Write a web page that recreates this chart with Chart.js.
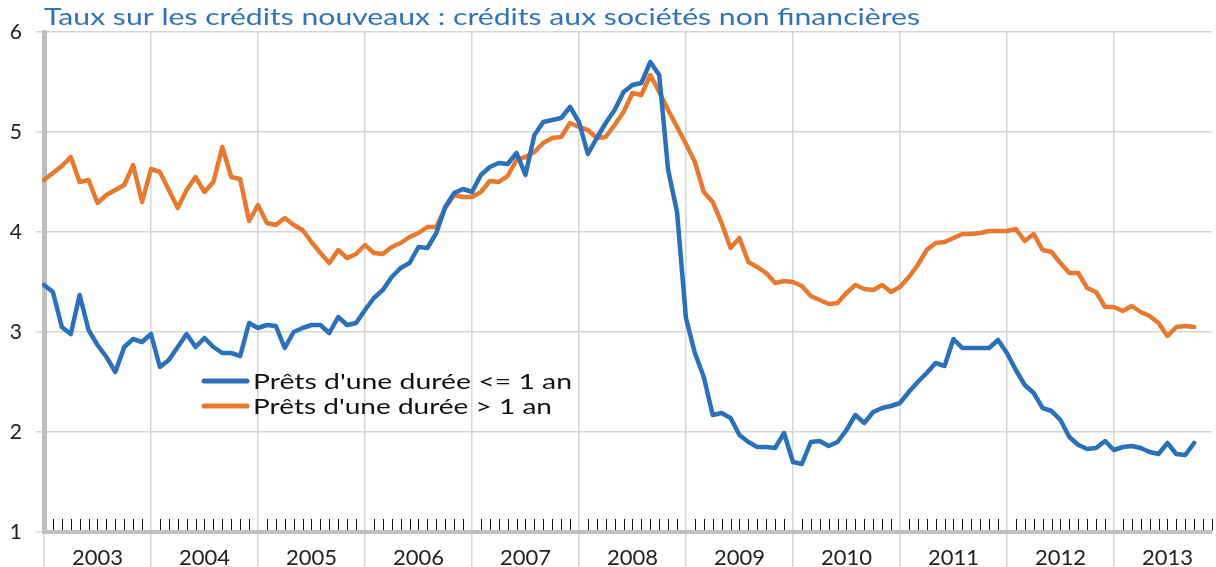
<!DOCTYPE html>
<html>
<head>
<meta charset="utf-8">
<script src="https://cdn.jsdelivr.net/npm/chart.js@4.4.0/dist/chart.umd.min.js"></script>
<style>
  html, body { margin: 0; padding: 0; background: #fff; }
  canvas { display: block; }
</style>
</head>
<body>
<canvas id="ratesChart" width="1216" height="567"></canvas>
<script>
// Data (monthly, Jan 2003 - Oct 2013)
const years = ["2003", "2004", "2005", "2006", "2007", "2008", "2009", "2010", "2011", "2012", "2013"];
const chartTitle = "Taux sur les crédits nouveaux : crédits aux sociétés non financières";
const seriesNames = ["Prêts d'une durée <= 1 an", "Prêts d'une durée > 1 an"];

const shortRates = [
    3.47, 3.40, 3.05, 2.98, 3.37, 3.02, 2.87, 2.75, 2.60, 2.85, 2.93, 2.90,
    2.98, 2.65, 2.72, 2.85, 2.98, 2.85, 2.94, 2.85, 2.79, 2.79, 2.76, 3.09,
    3.04, 3.07, 3.06, 2.84, 3.00, 3.04, 3.07, 3.07, 2.99, 3.15, 3.07, 3.09,
    3.22, 3.34, 3.42, 3.55, 3.64, 3.69, 3.85, 3.84, 3.99, 4.25, 4.39, 4.43,
    4.40, 4.57, 4.65, 4.69, 4.68, 4.79, 4.57, 4.97, 5.10, 5.12, 5.14, 5.25,
    5.10, 4.78, 4.94, 5.09, 5.22, 5.40, 5.47, 5.49, 5.70, 5.57, 4.62, 4.20,
    3.14, 2.79, 2.55, 2.17, 2.19, 2.14, 1.97, 1.90, 1.85, 1.85, 1.84, 1.99,
    1.70, 1.68, 1.90, 1.91, 1.86, 1.90, 2.02, 2.17, 2.09, 2.20, 2.24, 2.26,
    2.29, 2.40, 2.50, 2.59, 2.69, 2.66, 2.93, 2.84, 2.84, 2.84, 2.84, 2.92,
    2.79, 2.62, 2.47, 2.39, 2.24, 2.21, 2.12, 1.95, 1.87, 1.83, 1.84, 1.91,
    1.82, 1.85, 1.86, 1.84, 1.80, 1.78, 1.89, 1.78, 1.77, 1.89
];

const longRates = [
    4.52, 4.59, 4.66, 4.75, 4.50, 4.52, 4.29, 4.37, 4.42, 4.47, 4.67, 4.30,
    4.63, 4.60, 4.42, 4.24, 4.42, 4.55, 4.40, 4.50, 4.85, 4.55, 4.53, 4.11,
    4.27, 4.09, 4.07, 4.14, 4.07, 4.02, 3.90, 3.79, 3.69, 3.82, 3.74, 3.78,
    3.87, 3.79, 3.78, 3.85, 3.89, 3.95, 3.99, 4.05, 4.05, 4.24, 4.37, 4.35,
    4.35, 4.40, 4.51, 4.50, 4.56, 4.72, 4.75, 4.80, 4.89, 4.94, 4.95, 5.09,
    5.05, 5.02, 4.94, 4.95, 5.07, 5.20, 5.39, 5.37, 5.57, 5.40, 5.22, 5.05,
    4.88, 4.70, 4.40, 4.30, 4.09, 3.84, 3.94, 3.70, 3.65, 3.59, 3.49, 3.51,
    3.50, 3.46, 3.36, 3.32, 3.28, 3.29, 3.39, 3.47, 3.43, 3.42, 3.47, 3.40,
    3.45, 3.55, 3.67, 3.82, 3.89, 3.90, 3.94, 3.98, 3.98, 3.99, 4.01, 4.01,
    4.01, 4.03, 3.91, 3.98, 3.82, 3.80, 3.69, 3.59, 3.59, 3.44, 3.40, 3.25,
    3.25, 3.21, 3.26, 3.20, 3.16, 3.09, 2.96, 3.05, 3.06, 3.05
];

const yMin = 1;
const yMax = 6;

const BLUE = "#2a70bb";
const ORANGE = "#e8792f";
const GRID = "#d6d6d6";
const AXIS = "#bfbfbf";

// one category per month
const labels = [];
years.forEach(function (y) {
    for (let m = 1; m <= 12; m++) labels.push(y + "-" + m);
});

// draw text squeezed/stretched to a given width
function fillFit(ctx, text, x, y, width) {
    const w = ctx.measureText(text).width;
    ctx.save();
    ctx.translate(x, y);
    ctx.scale(width / w, 1);
    ctx.fillText(text, 0, 0);
    ctx.restore();
}

// monthly ticks, title and in-plot legend
const overlay = {
    id: "overlay",
    afterDraw(chart) {
        const ctx = chart.ctx;
        const xs = chart.scales.x;
        const area = chart.chartArea;
        ctx.save();

        ctx.strokeStyle = "#111";
        ctx.lineWidth = 1;
        ctx.beginPath();
        for (let i = 1; i < labels.length; i++) {
            if (i % 12 === 0) continue;
            const px = Math.round(xs.getPixelForValue(i)) + 0.5;
            ctx.moveTo(px, area.bottom - 13);
            ctx.lineTo(px, area.bottom - 2);
        }
        ctx.stroke();

        ctx.fillStyle = "#2e75b6";
        ctx.font = "23px Lato";
        ctx.textBaseline = "middle";
        fillFit(ctx, chartTitle, 44, 18, 876);

        const items = [
            { text: seriesNames[0], color: BLUE, y: 381, w: 319 },
            { text: seriesNames[1], color: ORANGE, y: 406, w: 299 }
        ];
        ctx.font = "22px Lato";
        ctx.lineWidth = 5;
        ctx.lineCap = "round";
        items.forEach(function (it) {
            ctx.strokeStyle = it.color;
            ctx.beginPath();
            ctx.moveTo(204, it.y);
            ctx.lineTo(247, it.y);
            ctx.stroke();
            ctx.fillStyle = "#111";
            fillFit(ctx, it.text, 253, it.y + 1, it.w);
        });

        ctx.restore();
    }
};

const ctx = document.getElementById("ratesChart").getContext("2d");
const ratesChart = new Chart(ctx, {
    type: "line",
    data: {
        labels: labels,
        datasets: [
            {
                label: seriesNames[0],
                data: shortRates,
                borderColor: BLUE,
                backgroundColor: BLUE,
                borderWidth: 4.5,
                pointRadius: 0,
                tension: 0,
                borderJoinStyle: "round",
                borderCapStyle: "round",
            },
            {
                label: seriesNames[1],
                data: longRates,
                borderColor: ORANGE,
                backgroundColor: ORANGE,
                borderWidth: 4.5,
                pointRadius: 0,
                tension: 0,
                borderJoinStyle: "round",
                borderCapStyle: "round",
            },
        ],
    },
    options: {
        responsive: false,
        animation: false,
        layout: {
            padding: { top: 32, right: 4, bottom: 0, left: 0 },
        },
        plugins: {
            legend: { display: false },
            title: { display: false },
            tooltip: { enabled: false },
        },
        scales: {
            x: {
                type: "category",
                offset: false,
                afterFit: function (scale) { scale.height = 35; },
                border: { color: AXIS, width: 4 },
                grid: {
                    offset: false,
                    color: function (c) { return c.index % 12 === 0 ? GRID : "rgba(0,0,0,0)"; },
                    tickColor: function (c) { return c.index % 12 === 0 ? GRID : "rgba(0,0,0,0)"; },
                    lineWidth: 1.5,
                    tickWidth: 1.5,
                    tickLength: 35,
                },
                ticks: {
                    autoSkip: false,
                    maxRotation: 0,
                    padding: -22,
                    color: "#222",
                    font: { family: "Lato", size: 22 },
                    callback: function (value, index) {
                        return index % 12 === 6 ? years[Math.floor(index / 12)] : "";
                    },
                },
            },
            y: {
                min: yMin,
                max: yMax,
                afterFit: function (scale) { scale.width = 44; },
                border: { color: AXIS, width: 5 },
                grid: {
                    color: GRID,
                    lineWidth: 1.5,
                    tickLength: 8,
                },
                ticks: {
                    stepSize: 1,
                    padding: 14,
                    color: "#222",
                    font: { family: "Lato", size: 21 },
                },
            },
        },
    },
    plugins: [overlay],
});
</script>
</body>
</html>
